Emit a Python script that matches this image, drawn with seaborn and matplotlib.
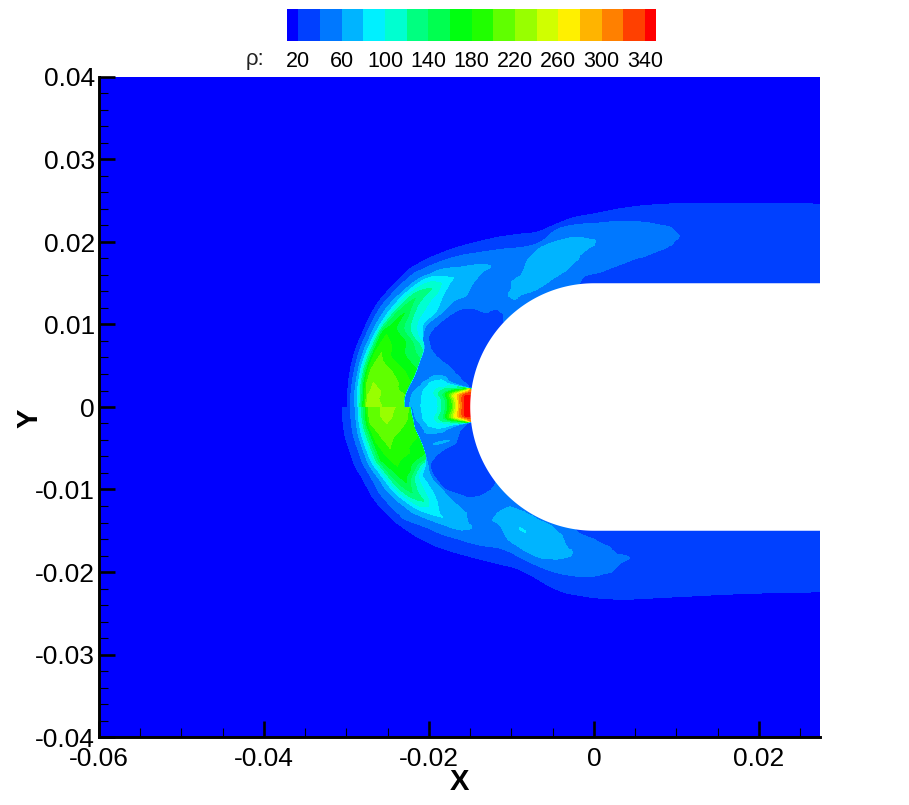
import numpy as np
import matplotlib
matplotlib.use("Agg")
import matplotlib.pyplot as plt
from matplotlib.colors import ListedColormap
from matplotlib.ticker import MultipleLocator
import seaborn as sns

# ---- contour levels and colours ------------------------------------------
levels = [0, 20, 40, 60, 80, 100, 120, 140, 160, 180, 200, 220, 240, 260, 280, 300, 320, 340, 400]
band_colors = ["#0000ff", "#0040ff", "#0078ff", "#00b4ff", "#00f0ff", "#00ffd0", "#00ff80", "#00ff50", "#00ff10",
               "#20ff00", "#60ff00", "#98ff00", "#d0ff00", "#fff000", "#ffb400", "#ff8000", "#ff4000", "#ff0000"]
legend_labels = ["20", "60", "100", "140", "180", "220", "260", "300", "340"]
x_ticks = [-0.06, -0.04, -0.02, 0, 0.02]
x_tick_labels = ["-0.06", "-0.04", "-0.02", "0", "0.02"]
y_ticks = [-0.04, -0.03, -0.02, -0.01, 0, 0.01, 0.02, 0.03, 0.04]
y_tick_labels = ["-0.04", "-0.03", "-0.02", "-0.01", "0", "0.01", "0.02", "0.03", "0.04"]
body_radius_mm = 15.0

# ---- density samples ------------------------------------------------------
# Stations run round the body: angle from the -x axis (deg), then x stations (mm).
# Each row lists distance from body centre (mm) and density there.

# Upper half: shock layer
up_layer_angle = [0, 3, 6, 10, 14, 19, 22, 26, 31, 36, 39, 42.4, 48, 53.5, 60, 66, 72, 78, 84, 90]
up_layer_x = [3, 6, 9, 10.3, 14, 27.4]
up_layer_r = [
    [29.9, 29.5, 29.0, 28.7, 27.6, 26.7, 25.7, 23.1, 22.95],
    [29.9, 29.5, 29.05, 28.7, 27.45, 26.7, 26.0, 23.1, 22.95],
    [29.9, 29.45, 29.0, 28.7, 27.7, 26.9, 23.9, 22.75, 22.6],
    [29.85, 29.35, 28.9, 28.6, 27.55, 26.8, 24.8, 22.2, 22.05],
    [29.7, 29.2, 28.7, 28.35, 27.35, 26.6, 25.4, 21.95, 21.85],
    [29.4, 28.9, 28.35, 27.95, 27.2, 26.6, 24.1, 21.9, 21.75],
    [29.3, 28.75, 28.15, 27.7, 26.9, 26.2, 24.8, 22.5, 22.3],
    [29.05, 28.45, 27.8, 27.3, 26.4, 25.7, 24.5, 23.0, 22.2],
    [28.5, 27.85, 27.1, 26.7, 25.9, 25.4, 24.3, 22.4, 21.2],
    [28.0, 27.25, 26.35, 25.9, 25.1, 24.4, 23.5, 22.7, 20.1],
    [27.5, 26.6, 25.6, 25.1, 24.4, 23.8, 23.3, 22.9, 19.0],
    [26.85, 25.85, 24.8, 23.8, 23.4, 23.2, 23.0, 22.7, 17.2],
    [25.75, 24.6, 23.0, 22.6, 22.2, 21.8, 21.5, 21.1, 20.0],
    [24.7, 23.3, 22.3, 21.7, 21.3, 21.0, 20.7, 20.3, 19.5],
    [23.7, 22.1, 21.0, 20.0, 19.5, 19.0, 18.6, 18.2, 17.8],
    [22.9, 21.2, 20.8, 20.4, 20.0, 19.6, 19.0, 18.4, 17.8],
    [22.3, 21.0, 20.8, 20.6, 20.4, 19.5, 18.6, 18.0, 17.5],
    [22.6, 21.95, 21.5, 21.0, 20.6, 19.5, 18.8, 18.3, 17.8],
    [23.1, 22.2, 21.7, 21.2, 20.7, 20.1, 19.5, 19.0, 18.6],
    [23.4, 22.25, 21.5, 20.8, 20.2, 19.6, 19.0, 18.5, 18.0],
    [24.0, 22.5, 21.5, 21.0, 20.5, 20.0, 19.5, 19.0, 18.5],
    [24.4, 22.4, 21.8, 21.3, 20.8, 20.4, 20.0, 19.5, 19.0],
    [24.6, 21.9, 21.5, 21.2, 20.8, 20.5, 20.2, 19.9, 19.6],
    [24.65, 22.0, 21.5, 21.0, 20.7, 20.4, 20.0, 19.5, 19.0],
    [24.7, 23.0, 22.0, 21.5, 21.0, 20.5, 20.0, 19.5, 19.0],
    [24.6, 23.0, 22.0, 21.5, 21.0, 20.5, 20.0, 19.5, 19.0],
]
up_layer_rho = [
    [20, 40, 60, 80, 220, 235, 220, 203, 50],
    [20, 40, 60, 80, 220, 232, 220, 203, 50],
    [20, 40, 60, 80, 200, 221, 200, 188, 48],
    [20, 40, 60, 80, 195, 212, 200, 170, 44],
    [20, 40, 60, 80, 180, 201, 180, 150, 44],
    [20, 40, 60, 80, 165, 181, 160, 115, 45],
    [20, 40, 60, 80, 150, 168, 140, 90, 45],
    [20, 40, 60, 80, 140, 161, 120, 80, 40],
    [20, 40, 60, 80, 125, 141, 110, 80, 40],
    [20, 40, 60, 80, 110, 121, 100, 80, 40],
    [20, 40, 60, 80, 95, 101, 90, 80, 40],
    [20, 40, 60, 74, 79, 81, 79, 72, 40],
    [20, 40, 60, 65, 68, 66, 63, 60, 52],
    [20, 40, 52, 58, 60.5, 60, 57, 54, 50],
    [20, 40, 48, 50, 52, 54, 57, 60, 64],
    [20, 40, 45, 50, 56, 60, 65, 70, 72],
    [20, 40, 48, 55, 60, 70, 75, 74, 70],
    [20, 40, 47, 55, 60, 68, 70, 68, 65],
    [20, 40, 47, 54, 60, 65, 66, 64, 62],
    [20, 40, 50, 57, 60.5, 60, 57, 54, 52],
    [20, 40, 46, 49, 51, 52, 51, 49, 47],
    [20, 40, 44, 47, 49, 49, 47, 45, 43],
    [20, 40, 43, 45, 46, 46, 44, 42, 41],
    [20, 34, 37, 39.5, 40.3, 39.5, 38, 36.5, 35.5],
    [20, 28, 31, 32, 33, 33, 33, 32.5, 32],
    [20, 26, 28, 29, 29, 29, 29, 29, 29],
]

# Upper half: nose region behind the inner shock
up_nose_angle = [0, 3, 5, 7, 8, 8.6, 10, 12, 16]
up_nose_r = [
    [22.85, 22.4, 21.0, 18.9, 18.0, 17.15, 16.6, 16.2, 15.7, 15.0],
    [22.8, 22.2, 20.9, 19.0, 18.1, 17.3, 16.7, 16.3, 15.75, 15.0],
    [22.6, 21.9, 20.85, 19.5, 18.35, 17.55, 16.9, 16.25, 15.65, 15.0],
    [22.4, 21.2, 20.4, 19.0, 17.3, 16.3, 15.7, 15.3, 15.1, 15.0],
    [22.35, 21.0, 20.2, 18.0, 15.9, 15.5, 15.3, 15.15, 15.05, 15.0],
    [22.3, 20.8, 20.0, 19.0, 18.0, 17.0, 16.0, 15.6, 15.2, 15.0],
    [22.1, 20.2, 19.5, 18.8, 18.3, 17.8, 16.8, 15.6, 15.3, 15.0],
    [22.0, 20.5, 19.5, 18.8, 18.3, 17.8, 17.2, 16.5, 15.8, 15.0],
    [21.8, 21.0, 20.0, 19.2, 18.5, 18.0, 17.5, 16.5, 15.7, 15.0],
]
up_nose_rho = [
    [50, 60, 80, 100, 140, 200, 260, 300, 340, 352],
    [50, 60, 80, 100, 140, 200, 260, 300, 340, 350],
    [48, 60, 80, 100, 140, 200, 260, 300, 340, 342],
    [46, 60, 80, 100, 140, 200, 260, 300, 315, 320],
    [45, 60, 80, 97, 125, 200, 260, 300, 300, 280],
    [45, 60, 80, 92, 96, 95, 88, 80, 60, 38],
    [44, 60, 75, 80.5, 75, 60, 48, 40, 34, 30],
    [43, 50, 55, 57, 56, 52, 45, 40, 33, 28],
    [46, 45, 44, 42, 40, 37, 33, 28, 26, 25],
]

# Upper half: from the inner shock to the wall
up_wall_angle = [16, 20, 24, 30, 36, 39, 42.4, 48, 53.5, 60, 66, 72, 78, 84, 90]
up_wall_x = [3, 6, 9, 10.3, 14, 27.4]
up_wall_r = [
    [21.8, 20.0, 18.5, 16.5, 15.0], [21.8, 21.1, 20.0, 18.0, 15.0], [22.4, 21.8, 20.5, 18.0, 15.0],
    [21.3, 21.1, 20.0, 18.0, 15.0], [20.2, 20.1, 19.0, 17.0, 15.0], [19.1, 19.0, 18.0, 16.5, 15.0],
    [17.3, 17.2, 16.5, 15.8, 15.0], [20.0, 18.0, 16.8, 15.8, 15.0], [19.5, 18.0, 17.0, 16.2, 15.0],
    [17.8, 17.0, 16.0, 15.4, 15.0], [17.8, 17.0, 15.9, 15.4, 15.0], [17.5, 16.9, 16.3, 15.6, 15.0],
    [17.8, 17.2, 16.8, 16.0, 15.0], [18.6, 18.0, 17.0, 16.0, 15.0], [18.0, 17.2, 16.2, 15.5, 15.0],
    [18.5, 17.9, 17.2, 16.0, 15.0], [19.0, 18.6, 18.2, 16.5, 15.0], [19.6, 19.4, 18.0, 16.5, 15.0],
    [19.0, 18.5, 18.0, 16.5, 15.0], [19.0, 18.5, 18.0, 16.5, 15.0], [19.0, 18.5, 18.0, 16.5, 15.0],
]
up_wall_rho = [
    [46, 44, 40, 28, 25], [45, 40, 32, 26, 25], [45, 40, 32, 26, 24],
    [42, 40, 33, 27, 25], [41, 40, 32, 27, 25], [41, 40, 33, 28, 26],
    [41, 40, 34, 34, 40], [52, 48, 46, 45, 46], [50, 56, 62, 60, 47],
    [64, 68, 60, 53, 50], [72, 70, 60, 52, 48], [70, 64, 60, 52, 45],
    [65, 62, 60, 50, 42], [62, 60, 50, 42, 38], [52, 45, 40, 35, 32],
    [47, 43, 40, 34, 30], [43, 41, 40, 34, 30], [41, 40, 36, 32, 30],
    [35.5, 35, 34, 31, 29], [32, 31, 30, 29, 28], [29, 29, 29, 28, 28],
]

# Lower half: shock layer
lo_layer_angle = [0, 2, 4.3, 7, 11.2, 14, 16.5, 19, 21.8, 25, 28.8, 30.8, 35.7, 40, 44, 50, 56, 60, 64, 70, 76, 81, 86, 90]
lo_layer_x = [2, 4.1, 10, 18.5, 27.4]
lo_layer_r = [
    [30.5, 29.5, 28.9, 28.6, 27.3, 25.9, 25.0, 24.1, 22.4, 22.2],
    [30.5, 29.5, 28.9, 28.6, 27.3, 25.95, 25.1, 24.4, 22.3, 22.1],
    [30.45, 29.45, 28.85, 28.5, 27.2, 26.0, 25.2, 24.2, 22.1, 21.95],
    [30.35, 29.35, 28.75, 28.35, 26.9, 26.0, 25.2, 24.4, 21.95, 21.85],
    [30.0, 29.0, 28.4, 28.0, 26.7, 25.9, 25.2, 24.5, 21.5, 21.4],
    [29.8, 28.8, 28.2, 27.75, 26.6, 25.8, 25.1, 23.1, 21.35, 21.25],
    [29.45, 28.45, 27.8, 27.3, 26.2, 25.5, 24.9, 23.5, 21.35, 21.25],
    [29.2, 28.2, 27.4, 26.9, 25.9, 25.2, 24.7, 23.5, 21.9, 21.3],
    [29.0, 28.0, 27.1, 26.5, 25.6, 25.0, 24.5, 24.0, 22.4, 21.5],
    [28.6, 27.55, 26.5, 25.9, 25.1, 24.7, 24.4, 23.7, 22.2, 21.4],
    [28.0, 26.95, 25.7, 25.05, 24.4, 24.0, 23.6, 23.2, 22.1, 20.95],
    [27.65, 26.6, 25.25, 24.5, 24.0, 23.7, 23.4, 23.1, 22.2, 20.8],
    [26.7, 25.0, 23.8, 23.2, 23.0, 22.9, 22.8, 22.6, 22.0, 20.4],
    [25.8, 24.0, 22.7, 22.3, 22.0, 21.6, 21.2, 20.8, 20.4, 20.1],
    [24.9, 23.0, 22.2, 21.7, 21.4, 21.2, 21.0, 20.7, 20.3, 19.8],
    [23.6, 21.8, 21.0, 20.5, 20.0, 19.5, 19.0, 18.7, 18.3, 18.0],
    [22.6, 20.6, 20.3, 20.0, 19.7, 19.4, 19.0, 18.5, 18.0, 17.6],
    [22.1, 20.3, 20.0, 19.8, 19.5, 19.2, 18.7, 18.2, 17.8, 17.5],
    [21.7, 20.3, 20.0, 19.8, 19.6, 19.3, 18.8, 18.3, 17.9, 17.5],
    [21.8, 20.4, 20.1, 19.9, 19.6, 19.4, 18.9, 18.4, 18.0, 17.5],
    [22.35, 20.55, 20.2, 20.0, 19.5, 19.0, 18.5, 18.0, 17.6, 17.2],
    [22.75, 20.6, 20.0, 19.5, 19.0, 18.6, 18.3, 18.0, 17.8, 17.5],
    [22.9, 20.6, 20.0, 19.5, 19.0, 18.6, 18.2, 17.8, 17.4, 17.0],
    [23.1, 20.5, 20.1, 19.7, 19.3, 18.9, 18.5, 18.1, 17.7, 17.3],
    [23.25, 20.05, 19.7, 19.4, 19.1, 18.8, 18.5, 18.2, 17.9, 17.5],
    [23.3, 20.0, 19.5, 19.0, 18.6, 18.3, 18.0, 17.7, 17.4, 17.0],
    [23.0, 21.0, 20.0, 19.5, 19.0, 18.5, 18.0, 17.5, 17.0, 16.5],
    [22.6, 21.0, 20.0, 19.5, 19.0, 18.5, 18.0, 17.5, 17.0, 16.5],
    [22.4, 21.0, 20.0, 19.5, 19.0, 18.5, 18.0, 17.5, 17.0, 16.5],
]
lo_layer_rho = [
    [20, 40, 60, 80, 200, 220, 235, 220, 200, 48],
    [20, 40, 60, 80, 200, 220, 230, 220, 197, 47],
    [20, 40, 60, 80, 200, 212, 221, 212, 194, 46],
    [20, 40, 60, 80, 190, 205, 212, 205, 186, 46],
    [20, 40, 60, 80, 170, 190, 201, 190, 175, 45],
    [20, 40, 60, 80, 160, 178, 188, 180, 165, 45],
    [20, 40, 60, 80, 150, 170, 181, 168, 150, 46],
    [20, 40, 60, 80, 140, 160, 171, 160, 100, 60],
    [20, 40, 60, 80, 130, 150, 161, 140, 80, 60],
    [20, 40, 60, 80, 120, 132, 141, 120, 80, 60],
    [20, 40, 60, 80, 105, 115, 121, 105, 80, 60],
    [20, 40, 60, 80, 95, 99, 101, 95, 80, 60],
    [20, 40, 60, 72, 76, 78, 81, 77, 70, 60],
    [20, 40, 60, 66, 68, 68, 66, 63, 61, 60],
    [20, 40, 52, 58, 60, 61, 61, 60, 57, 54],
    [20, 40, 46, 48, 50, 51, 53, 56, 60, 63],
    [20, 40, 44, 48, 52, 56, 60, 66, 70, 74],
    [20, 40, 46, 50, 55, 60, 68, 72, 76, 78],
    [20, 40, 46, 50, 55, 60, 67, 71, 74, 75],
    [20, 40, 46, 50, 56, 60, 66, 70, 71, 71],
    [20, 40, 46, 49, 56, 60, 65, 67, 67, 65],
    [20, 40, 47, 50, 53, 57, 60, 61, 61, 60],
    [20, 40, 47, 49, 50, 51, 51, 50, 48, 47],
    [20, 40, 44, 46, 47, 47, 47, 46, 45, 44],
    [20, 40, 43, 44, 45, 45, 44, 43, 42, 41],
    [20, 30, 33, 37, 39.5, 40.5, 39.5, 38, 36, 35],
    [20, 26, 28, 29, 30, 30, 30, 30, 30, 30],
    [20, 26, 28, 29, 30, 30, 30, 30, 30, 30],
    [20, 26, 28, 29, 30, 30, 30, 30, 30, 30],
]

# Lower half: nose region behind the inner shock
lo_nose_angle = [0, 2, 4, 5.5, 6.5, 7, 8.5, 10, 12, 13, 14.5, 17]
lo_nose_r = [
    [22.15, 22.0, 20.9, 18.9, 18.0, 17.15, 16.6, 16.2, 15.7, 15.0],
    [22.1, 21.8, 20.85, 19.0, 18.1, 17.3, 16.7, 16.3, 15.75, 15.0],
    [22.0, 21.6, 20.75, 19.4, 18.3, 17.5, 16.85, 16.25, 15.65, 15.0],
    [21.9, 21.2, 20.4, 19.0, 17.5, 16.5, 15.8, 15.4, 15.1, 15.0],
    [21.8, 21.0, 20.2, 18.0, 15.9, 15.5, 15.3, 15.15, 15.05, 15.0],
    [21.7, 20.9, 20.0, 18.8, 17.8, 16.8, 16.0, 15.6, 15.2, 15.0],
    [21.5, 20.7, 20.0, 19.0, 18.5, 18.0, 17.0, 16.0, 15.5, 15.0],
    [21.4, 20.7, 20.0, 19.0, 18.5, 18.0, 17.3, 16.5, 15.7, 15.0],
    [21.3, 20.5, 19.7, 19.0, 18.5, 18.0, 17.3, 16.8, 16.0, 15.0],
    [21.3, 20.5, 20.0, 19.5, 19.0, 18.5, 18.0, 17.0, 16.0, 15.0],
    [21.2, 20.5, 20.0, 19.5, 19.0, 18.5, 18.0, 17.2, 16.0, 15.0],
    [21.3, 21.0, 20.6, 20.2, 20.0, 19.0, 18.0, 17.0, 16.0, 15.0],
]
lo_nose_rho = [
    [48, 60, 80, 100, 140, 200, 260, 300, 340, 352],
    [48, 60, 80, 100, 140, 200, 260, 300, 340, 350],
    [47, 60, 80, 100, 140, 200, 260, 300, 340, 345],
    [46, 60, 80, 100, 140, 200, 260, 300, 315, 322],
    [45, 60, 80, 97, 125, 200, 260, 300, 300, 280],
    [45, 60, 78, 90, 92, 90, 85, 80, 60, 40],
    [45, 60, 68, 72, 70, 62, 50, 40, 34, 30],
    [44, 50, 53, 55, 54, 50, 44, 40, 33, 28],
    [45, 48, 50, 50, 48, 45, 42, 40, 33, 27],
    [46, 52, 60, 63, 63, 62, 60, 40, 30, 26],
    [45, 47, 48, 48, 47, 46, 44, 40, 30, 25],
    [46, 44, 42, 41, 40, 34, 30, 27, 25.5, 25],
]

# Lower half: from the inner shock to the wall
lo_wall_angle = [17, 19, 21.8, 25, 28.8, 30.8, 35.7, 40, 44, 50, 56, 60, 64, 70, 76, 81, 86, 90]
lo_wall_x = [2, 4.1, 10, 18.5, 27.4]
lo_wall_r = [
    [21.3, 20.0, 18.0, 16.0, 15.0], [21.3, 20.9, 19.0, 17.0, 15.0], [21.5, 21.2, 19.5, 17.0, 15.0],
    [21.4, 21.0, 19.5, 17.0, 15.0], [20.95, 20.65, 19.0, 17.0, 15.0], [20.8, 20.1, 18.5, 16.5, 15.0],
    [20.4, 18.9, 17.5, 16.0, 15.0], [20.1, 19.0, 17.5, 16.0, 15.0], [19.8, 18.5, 17.3, 16.0, 15.0],
    [18.0, 17.0, 15.8, 15.4, 15.0], [17.6, 17.0, 16.0, 15.3, 15.0], [17.5, 17.3, 17.0, 16.0, 15.0],
    [17.5, 17.0, 16.0, 15.3, 15.0], [17.5, 17.0, 16.0, 15.3, 15.0], [17.2, 16.6, 16.0, 15.5, 15.0],
    [17.5, 17.0, 16.0, 15.4, 15.0], [17.0, 16.5, 16.0, 15.5, 15.0], [17.3, 16.7, 16.0, 15.5, 15.0],
    [17.5, 17.0, 16.0, 15.5, 15.0], [17.0, 16.5, 16.0, 15.5, 15.0], [16.5, 16.2, 15.9, 15.5, 15.0],
    [16.5, 16.2, 15.9, 15.5, 15.0], [16.5, 16.2, 15.9, 15.5, 15.0],
]
lo_wall_rho = [
    [46, 40, 30, 25.5, 25], [60, 40, 30, 26, 25], [60, 40, 30, 26, 25],
    [60, 40, 32, 27, 25], [60, 40, 31, 27, 25], [60, 40, 31, 27, 25],
    [60, 40, 34, 31, 37], [60, 52, 45, 43, 45], [54, 50, 52, 50, 48],
    [63, 66, 60, 52, 48], [74, 76, 68, 60, 52], [78, 82, 78, 68, 55],
    [75, 74, 68, 60, 56], [71, 70, 65, 60, 58], [65, 62, 60, 52, 45],
    [60, 55, 46, 42, 39], [47, 44, 42, 39, 35], [44, 42, 40, 36, 32],
    [41, 40, 35, 32, 30], [35, 33, 32, 31, 30], [30, 30, 30, 30, 29],
    [30, 30, 30, 30, 29], [30, 30, 30, 30, 29],
]


def station_mesh(angles, xs, radii, side):
    """Turn (station, distance) samples into metres on the x/y axes."""
    r = np.asarray(radii, dtype=float) / 1000.0
    ang = np.radians(np.asarray(angles, dtype=float))[:, None]
    n = len(angles)
    X = np.empty_like(r)
    Y = np.empty_like(r)
    X[:n] = -r[:n] * np.cos(ang)
    Y[:n] = side * r[:n] * np.sin(ang)
    if len(xs):
        X[n:] = (np.asarray(xs, dtype=float) / 1000.0)[:, None]
        Y[n:] = side * r[n:]
    return X, Y


def smooth_stations(A, sub=8, clamp=False):
    """Catmull-Rom display smoothing between stations, so contours are not faceted."""
    A = np.asarray(A, dtype=float)
    P = np.vstack([2 * A[0] - A[1], A, 2 * A[-1] - A[-2]])
    out = []
    for i in range(1, len(P) - 2):
        for k in range(sub):
            t = k / sub
            v = 0.5 * (2 * P[i] + (P[i + 1] - P[i - 1]) * t
                       + (2 * P[i - 1] - 5 * P[i] + 4 * P[i + 1] - P[i + 2]) * t ** 2
                       + (3 * P[i] - P[i - 1] - 3 * P[i + 1] + P[i + 2]) * t ** 3)
            if clamp:
                v = np.clip(v, np.minimum(P[i], P[i + 1]), np.maximum(P[i], P[i + 1]))
            out.append(v)
    out.append(A[-1])
    return np.array(out)


sns.set_theme(style="ticks", rc={"font.family": ["Liberation Sans", "DejaVu Sans"], "axes.linewidth": 2.1})
plt.rcParams["font.family"] = ["Liberation Sans", "DejaVu Sans"]

W, H = 909, 805
fig = plt.figure(figsize=(W / 100, H / 100), dpi=100)
ax = fig.add_axes([99 / W, 1 - 737 / H, (820 - 99) / W, 660 / H])
ax.set_facecolor(band_colors[0])

palette = sns.color_palette(band_colors)


def draw(angles, xs, radii, rho, side, overlap=0.0, inner=0.0):
    r = np.array(radii, dtype=float)
    r[:, 0] += overlap
    r[:, -1] -= inner
    X, Y = station_mesh(angles, xs, r, side)
    ax.contourf(smooth_stations(X), smooth_stations(Y), smooth_stations(rho, clamp=True),
                levels=levels, colors=palette)


for side, wall, nose, layer in [
    (1, (up_wall_angle, up_wall_x, up_wall_r, up_wall_rho),
     (up_nose_angle, [], up_nose_r, up_nose_rho),
     (up_layer_angle, up_layer_x, up_layer_r, up_layer_rho)),
    (-1, (lo_wall_angle, lo_wall_x, lo_wall_r, lo_wall_rho),
     (lo_nose_angle, [], lo_nose_r, lo_nose_rho),
     (lo_layer_angle, lo_layer_x, lo_layer_r, lo_layer_rho)),
]:
    draw(*wall, side, overlap=0.4, inner=0.3)
    draw(*nose, side, overlap=0.4, inner=0.3)
    draw(*layer, side)

# The body: a half cylinder with a straight afterbody
R = body_radius_mm / 1000.0
t = np.linspace(np.pi / 2, 3 * np.pi / 2, 181)
xlim = (-0.06, 0.0274)
ax.fill(np.r_[xlim[1], R * np.cos(t), xlim[1]], np.r_[R, R * np.sin(t), -R], color="white", lw=0, zorder=5)

ax.set_xlim(*xlim)
ax.set_ylim(-0.04, 0.04)
ax.set_xticks(x_ticks)
ax.set_xticklabels(x_tick_labels)
ax.set_yticks(y_ticks)
ax.set_yticklabels(y_tick_labels)
ax.xaxis.set_minor_locator(MultipleLocator(0.005))
ax.yaxis.set_minor_locator(MultipleLocator(0.002))
ax.tick_params(which="major", direction="in", length=11.5, width=1.9, labelsize=19, color="black",
               labelcolor="black", pad=3, top=False, right=False, zorder=10)
ax.tick_params(which="minor", direction="in", length=6.5, width=0.8, color="black", top=False, right=False, zorder=10)
ax.tick_params(axis="x", which="major", pad=7)
sns.despine(ax=ax, top=True, right=True)
for s in ("left", "bottom"):
    ax.spines[s].set_zorder(12)
    ax.spines[s].set_color("black")
ax.set_axisbelow(False)
fig.text(459 / W, 1 - 782 / H, "X", fontsize=21, fontweight="bold", ha="center", va="center", color="black")
fig.text(30 / W, 1 - 418 / H, "Y", fontsize=21, fontweight="bold", ha="center", va="center", rotation=90, color="black")

# Contour legend above the plot
cax = fig.add_axes([287 / W, 1 - 41 / H, (656 - 287) / W, 32 / H])
sns.heatmap(np.arange(len(band_colors)).reshape(1, -1), ax=cax, cmap=ListedColormap(band_colors), cbar=False,
            linewidths=0, xticklabels=False, yticklabels=False)
cax.set_xlim(0.48, 17.51)
cax.set_xticks(np.arange(1, 18, 2))
cax.set_xticklabels(legend_labels)
cax.tick_params(axis="x", length=0, labelsize=15.5, pad=7, labelcolor="black")
cax.tick_params(axis="y", length=0)
fig.text(255 / W, 1 - 60 / H, "ρ:", fontsize=16, ha="center", va="center", color="#222222")

fig.savefig("out.png", dpi=100, facecolor="white")
